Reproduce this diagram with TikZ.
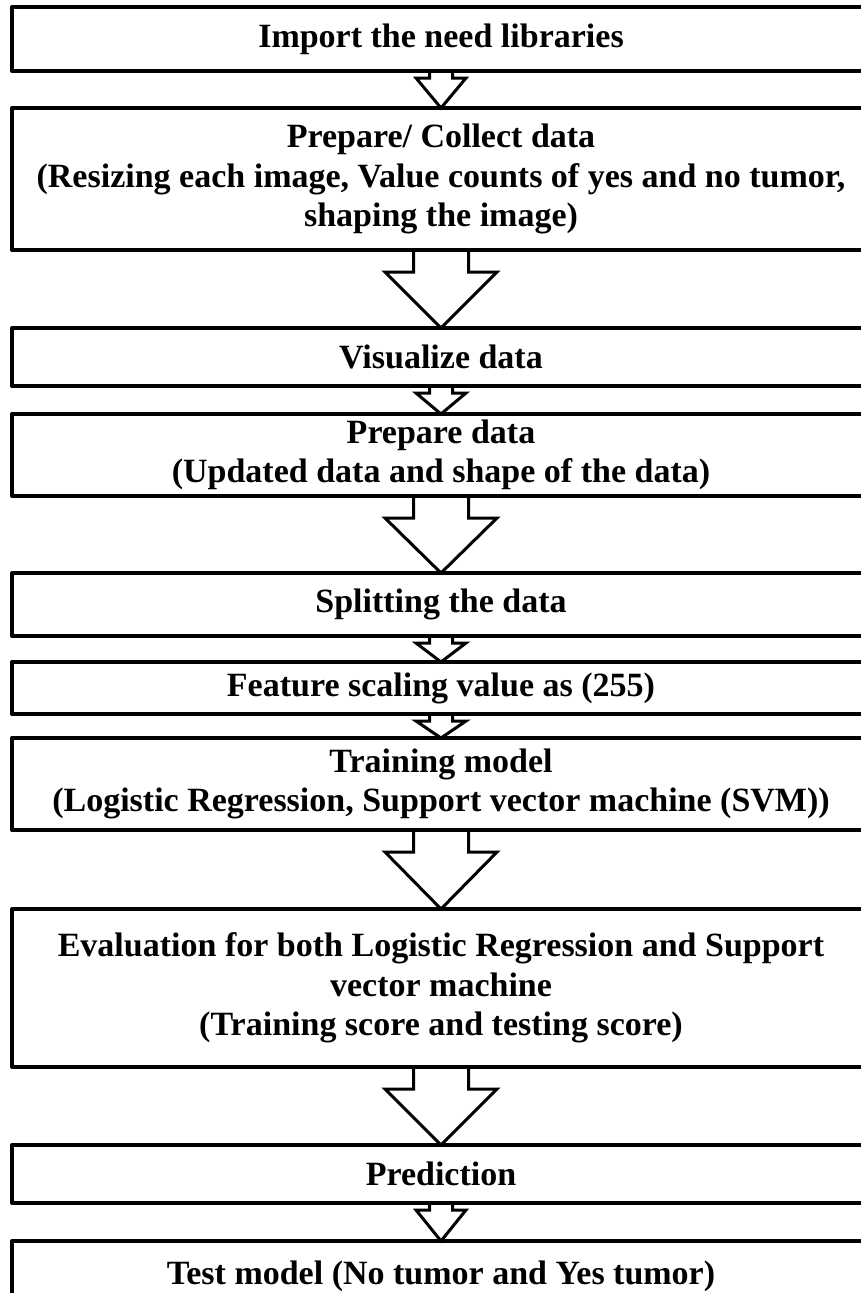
\documentclass[tikz,border=0pt]{standalone}
\usepackage{fontspec}
\setmainfont{Liberation Serif}
\usetikzlibrary{calc}
\begin{document}
\begin{tikzpicture}[x=1pt,y=1pt,
  box/.style={draw, line width=4pt, line join=round, minimum width=858pt,
    inner sep=0pt, outer sep=0pt, align=center, anchor=north west,
    font=\bfseries\fontsize{34}{39.5}\selectfont},
  flow/.style={draw, line width=3pt, line join=miter}]
\useasboundingbox (0,0) rectangle (860,-1293);

% process steps: top edge, height
\node[box, minimum height=64]  (b1)  at (12,-7)    {Import the need libraries};
\node[box, minimum height=142] (b2)  at (12,-108)  {Prepare/ Collect data\\(Resizing each image, Value counts of yes and no tumor,\\shaping the image)};
\node[box, minimum height=58]  (b3)  at (12,-328)  {Visualize data};
\node[box, minimum height=82]  (b4)  at (12,-414)  {Prepare data\\(Updated data and shape of the data)};
\node[box, minimum height=63]  (b5)  at (12,-573)  {Splitting the data};
\node[box, minimum height=52]  (b6)  at (12,-662)  {Feature scaling value as (255)};
\node[box, minimum height=92]  (b7)  at (12,-738)  {Training model\\(Logistic Regression, Support vector machine (SVM))};
\node[box, minimum height=158] (b8)  at (12,-909)  {Evaluation for both Logistic Regression and Support\\vector machine\\(Training score and testing score)};
\node[box, minimum height=58]  (b9)  at (12,-1145) {Prediction};
\node[box, minimum height=70]  (b10) at (12,-1241) {Test model (No tumor and Yes tumor)};

% block arrows: small (narrow) and large (wide)
\newcommand\smallflow[2]{%
  \draw[flow] let \p1=(#1.south), \p2=(#2.north) in
    (\x1-11.5pt,\y1) -- (\x1-11.5pt,\y1-7pt) -- (\x1-25pt,\y1-7pt) -- (\x1,\y2)
    -- (\x1+25pt,\y1-7pt) -- (\x1+11.5pt,\y1-7pt) -- (\x1+11.5pt,\y1);}
\newcommand\largeflow[2]{%
  \draw[flow] let \p1=(#1.south), \p2=(#2.north) in
    (\x1-27.5pt,\y1) -- (\x1-27.5pt,\y1-22pt) -- (\x1-56pt,\y1-22pt) -- (\x1,\y2)
    -- (\x1+56pt,\y1-22pt) -- (\x1+27.5pt,\y1-22pt) -- (\x1+27.5pt,\y1);}

\smallflow{b1}{b2}
\largeflow{b2}{b3}
\smallflow{b3}{b4}
\largeflow{b4}{b5}
\smallflow{b5}{b6}
\smallflow{b6}{b7}
\largeflow{b7}{b8}
\largeflow{b8}{b9}
\smallflow{b9}{b10}
\end{tikzpicture}
\end{document}
